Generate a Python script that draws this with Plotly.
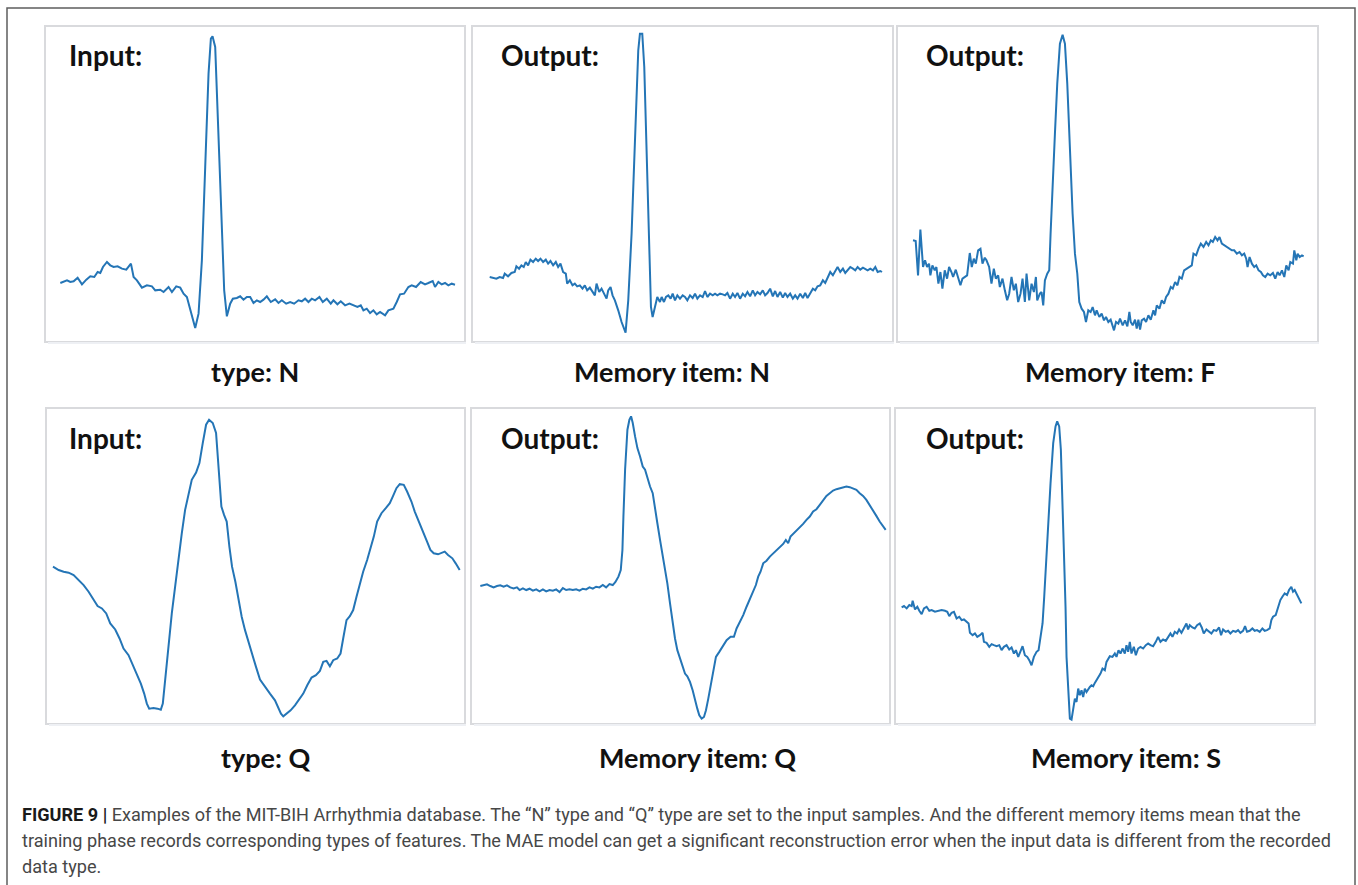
import plotly.graph_objects as go

# ---------------- data (sample index, amplitude in ADC-like units) ----------------
# Panel 1: Input, type N
t_in_n = [0, 1, 2, 3, 4, 5.2, 6.5, 7.8, 9, 10.2,
          11.2, 12, 12.8, 14, 15, 16, 17.2, 18.5, 19.8, 21.2,
          22, 23, 24.5, 26, 27.5, 28.5, 30, 31, 32.5, 33.5,
          34.8, 36, 37, 38, 39, 40.5, 41.5, 42.5, 43.5, 44.5,
          45.2, 45.7, 46.5, 47.5, 48.5, 49.2, 50, 51, 51.8, 53,
          54, 55, 56, 57, 58, 59, 60, 61, 62, 63.2,
          64.5, 65.5, 66.5, 67.8, 69, 70.2, 71.5, 72.5, 73.5, 74.5,
          75.5, 76.5, 77.8, 78.8, 80, 81.2, 82, 83.2, 84.2, 85.5,
          86.8, 88, 89.2, 90.2, 91, 92, 93, 94, 95, 96,
          97.5, 98.5, 100, 101, 102, 103.2, 104.5, 105.5, 106.8, 108.2,
          109.5, 110.5, 111.8, 112.5, 113.5, 114.5, 115.5, 116.5, 117.5, 118.5]
v_in_n = [135, 138, 143, 138, 140, 151, 131, 145, 155, 153,
          168, 165, 183, 198, 188, 183, 185, 178, 175, 193,
          153, 143, 121, 128, 125, 113, 115, 108, 123, 108,
          125, 121, 103, 93, 53, 0, 43, 203, 483, 763,
          868, 875, 843, 583, 283, 113, 35, 73, 88, 90,
          95, 85, 93, 93, 75, 83, 78, 85, 95, 78,
          86, 75, 83, 73, 78, 73, 83, 80, 88, 78,
          88, 83, 93, 78, 88, 73, 83, 71, 80, 68,
          73, 68, 63, 68, 53, 58, 45, 53, 41, 48,
          38, 53, 58, 78, 101, 103, 123, 128, 123, 138,
          131, 135, 141, 123, 138, 131, 135, 128, 133, 130]

# Panel 2: Output, memory item N
t_out_n = [0, 1, 2, 3, 4, 4.5, 5.5, 6.5, 7.5, 8,
           8.8, 9.5, 10.2, 10.8, 11.5, 12.2, 13, 13.8, 14.5, 15.2,
           16, 16.8, 17.5, 18.2, 19, 19.8, 20.5, 21.2, 22, 22.8,
           23.2, 24, 24.8, 25.5, 26.2, 27, 27.8, 28.5, 29.2, 30,
           30.8, 31.5, 32, 32.8, 33.5, 34.2, 35, 35.5, 36.2, 36.8,
           37.5, 38.5, 39.5, 40.7, 41.5, 42.5, 43.5, 44.5, 45, 45.7,
           46.3, 47, 47.7, 48.3, 48.8, 49.5, 50.2, 51, 51.5, 52.2,
           52.8, 53.5, 54.2, 54.8, 55.5, 56.2, 57, 57.8, 58.5, 59.2,
           60, 60.8, 61.5, 62.2, 63, 63.8, 64.5, 65.2, 66, 66.8,
           67.5, 68.2, 69, 69.8, 70.5, 71.2, 72, 72.8, 73.5, 74.2,
           75, 75.8, 76.5, 77.2, 78, 78.8, 79.5, 80.2, 81, 81.8,
           82.5, 83.2, 84, 84.8, 85.5, 86.2, 87, 87.8, 88.5, 89.2,
           90, 90.8, 91.5, 92.2, 93, 93.8, 94.5, 95.2, 96, 96.8,
           97.5, 98.2, 99, 99.8, 100.5, 101.2, 102, 102.8, 103.5, 104.2,
           105, 105.8, 106.5, 107.2, 108, 108.8, 109.5, 110.2, 111, 111.8,
           112.5, 113.2, 114, 114.8, 115.5, 116.2, 117, 117.5]
v_out_n = [167, 164, 162, 167, 164, 177, 169, 179, 182, 199,
           192, 202, 197, 212, 202, 219, 212, 222, 215, 222,
           212, 219, 207, 215, 202, 212, 197, 207, 182, 177,
           147, 157, 142, 147, 139, 142, 132, 142, 127, 135,
           122, 112, 147, 122, 132, 119, 102, 127, 137, 112,
           97, 67, 32, 0, 97, 297, 597, 847, 897, 897,
           797, 547, 247, 77, 47, 77, 107, 92, 107, 92,
           107, 112, 102, 117, 97, 112, 102, 112, 107, 97,
           112, 104, 117, 102, 112, 107, 125, 107, 117, 112,
           117, 112, 117, 115, 112, 119, 102, 117, 107, 119,
           102, 117, 109, 122, 109, 127, 112, 122, 115, 127,
           112, 119, 132, 109, 125, 107, 122, 105, 119, 107,
           117, 102, 112, 102, 117, 104, 119, 104, 117, 132,
           127, 139, 142, 157, 149, 167, 182, 172, 187, 197,
           182, 192, 179, 187, 197, 192, 187, 197, 189, 195,
           192, 187, 192, 187, 197, 182, 185, 182]

# Panel 3: Output, memory item F
t_out_f = [0, 0.8, 1.5, 2.2, 3, 3.6, 4.2, 4.8, 5.2, 5.8,
           6.5, 7, 7.6, 8.2, 8.8, 9.5, 10.2, 10.8, 11.5, 12,
           12.8, 13.5, 14.2, 14.8, 15.5, 16.2, 17, 17.6, 18.2, 18.8,
           19.5, 20.2, 20.8, 21.5, 22, 22.8, 23.5, 24.2, 24.8, 25.5,
           26, 26.8, 27.5, 28.2, 28.8, 29.5, 30.2, 30.8, 31.5, 32.2,
           32.8, 33.5, 34, 34.8, 35.5, 36.2, 36.8, 37.2, 38, 38.5,
           39, 39.5, 40.2, 40.8, 41.2, 41.8, 42.5, 43.2, 44, 44.8,
           45.5, 46.2, 47, 47.8, 48.5, 49.2, 49.8, 50.5, 51.2, 51.8,
           52.5, 53.2, 53.8, 54.5, 55, 55.8, 56.5, 57.2, 57.8, 58.5,
           59.2, 59.8, 60.2, 60.8, 61.5, 62, 62.8, 63.5, 64.2, 64.8,
           65.2, 65.8, 66.5, 67, 67.5, 68, 68.5, 69.2, 69.8, 70.5,
           71.2, 72, 72.5, 73, 73.8, 74.5, 75.2, 75.8, 76.5, 77.2,
           77.8, 78.5, 79.2, 79.8, 80.5, 81.2, 82, 82.8, 83.5, 84,
           84.8, 85.5, 86.2, 87, 87.8, 88.5, 89.2, 89.8, 90.5, 91.2,
           91.8, 92.5, 93.2, 94, 94.8, 95.5, 96.2, 97, 97.8, 98.5,
           99.2, 99.8, 100.2, 100.8, 101.5, 102.2, 102.8, 103.5, 104.2, 104.8,
           105.5, 106.2, 107, 107.8, 108.5, 109.2, 109.8, 110.5, 111.2, 111.8,
           112.5, 113, 113.8, 114.2, 114.8, 115.2, 115.8, 116.5, 117]
v_out_f = [270, 268, 165, 302, 190, 210, 190, 200, 165, 195,
           180, 190, 140, 175, 125, 180, 155, 190, 175, 160,
           182, 160, 135, 155, 160, 165, 232, 190, 215, 200,
           240, 245, 200, 218, 210, 190, 140, 185, 155, 165,
           130, 155, 120, 90, 110, 160, 120, 140, 85, 110,
           155, 85, 170, 90, 140, 115, 160, 90, 110, 115,
           75, 150, 170, 180, 290, 410, 590, 740, 860, 887,
           860, 740, 540, 350, 230, 170, 85, 65, 55, 25,
           60, 55, 70, 45, 60, 40, 50, 30, 40, 25,
           32, 10, 0, 25, 20, 35, 15, 30, 12, 55,
           25, 15, 32, 5, 32, 2, 30, 35, 25, 45,
           32, 60, 45, 75, 65, 90, 80, 100, 110, 130,
           125, 145, 135, 160, 155, 180, 185, 190, 195, 230,
           225, 245, 260, 250, 265, 255, 270, 265, 280, 270,
           280, 260, 255, 250, 245, 240, 240, 230, 235, 225,
           230, 215, 190, 220, 200, 190, 195, 180, 175, 165,
           160, 170, 165, 172, 155, 175, 165, 180, 160, 195,
           180, 205, 200, 240, 210, 230, 220, 225, 222]

# Panel 4: Input, type Q
t_in_q = [0, 1.7, 3.2, 4.7, 6.2, 7.7, 9.2, 10.7, 12.2, 13.4,
          14.7, 16, 17.2, 18.7, 20, 21.2, 22.7, 24, 25.2, 26.4,
          27.4, 28.2, 28.9, 30.2, 31.4, 32.4, 33, 33.7, 34.7, 35.7,
          36.7, 37.7, 38.7, 39.7, 40.7, 41.7, 43, 44, 45, 46,
          46.9, 48, 49, 49.8, 50.6, 51.4, 52.2, 53, 53.8, 54.8,
          55.7, 56.7, 57.7, 58.7, 59.7, 61, 62.2, 63.7, 65.2, 66.7,
          67.7, 68.5, 69.2, 70.2, 71.4, 72.7, 74, 75.2, 76.4, 77.7,
          79, 80.2, 81.2, 82.2, 83.2, 84.2, 85.4, 86.4, 87.2, 88.2,
          89.2, 90.2, 91.2, 92.2, 93.2, 94.4, 95.4, 96.4, 97.4, 98.7,
          100, 101.2, 102.2, 103.2, 104.2, 105.4, 106.4, 107.7, 108.7, 110,
          111.2, 112.4, 113.4, 114.4, 115.7, 116.7, 117.7, 118.7, 120, 121,
          122.2]
v_in_q = [448, 438, 433, 430, 423, 408, 393, 373, 348, 330,
          323, 308, 278, 260, 233, 203, 183, 153, 123, 98,
          68, 38, 23, 25, 23, 20, 38, 108, 218, 308,
          388, 478, 548, 618, 668, 708, 730, 758, 818, 873,
          888, 878, 848, 748, 628, 603, 583, 508, 448, 403,
          348, 298, 258, 223, 188, 148, 110, 88, 68, 48,
          28, 8, 0, 8, 18, 33, 53, 68, 93, 116,
          123, 136, 163, 166, 150, 168, 173, 188, 233, 288,
          300, 318, 358, 398, 433, 468, 503, 538, 583, 608,
          623, 638, 660, 683, 695, 693, 673, 643, 613, 583,
          553, 523, 498, 488, 485, 488, 493, 483, 473, 458,
          438]

# Panel 5: Output, memory item Q
t_out_q = [0, 1, 2, 3, 4, 5, 6, 7, 8, 9,
           10, 11, 11.8, 12.8, 13.8, 14.8, 15.8, 16.8, 17.8, 18.8,
           19.8, 20.8, 21.8, 22.8, 23.8, 24.8, 25.8, 26.8, 27.8, 28.8,
           29.8, 30.8, 31.8, 32.8, 33.8, 34.8, 35.8, 36.8, 37.8, 38.8,
           39.8, 40.6, 41.5, 42.2, 42.7, 43, 43.5, 44.2, 44.8, 45.3,
           45.8, 46.5, 47.2, 48, 48.8, 49.5, 50.2, 51, 51.8, 52.5,
           53.2, 54, 54.8, 55.5, 56.2, 57, 57.8, 58.5, 59.2, 60,
           60.8, 61.5, 62.2, 63, 63.8, 64.5, 65.2, 65.8, 66.5, 67.2,
           67.8, 68.5, 69.2, 70, 70.8, 71.8, 73, 74, 75.2, 76.2,
           77, 78, 79, 80, 81, 82, 82.8, 83.5, 84.2, 85,
           86, 87, 88, 89, 90, 91, 91.8, 92.5, 93.2, 94,
           95, 96, 97, 98, 99, 100, 101, 102, 103, 104,
           105, 106, 107, 108, 109, 110, 111, 112, 113, 114,
           115, 116, 117, 118, 119, 120, 121, 121.8]
v_out_q = [397, 400, 402, 397, 393, 397, 399, 395, 399, 393,
           390, 393, 385, 390, 385, 389, 383, 387, 381, 387,
           381, 385, 383, 387, 379, 391, 385, 387, 385, 387,
           383, 389, 387, 393, 389, 395, 393, 400, 393, 403,
           400, 409, 425, 445, 505, 605, 745, 865, 895, 905,
           885, 845, 810, 785, 755, 745, 720, 695, 675, 635,
           585, 535, 485, 455, 405, 345, 285, 240, 205, 180,
           160, 135, 127, 110, 85, 55, 30, 10, 0, 5,
           25, 60, 100, 145, 185, 200, 220, 235, 245, 245,
           270, 290, 310, 335, 357, 380, 400, 425, 440, 465,
           473, 485, 495, 505, 515, 523, 535, 525, 545, 553,
           560, 573, 583, 595, 605, 620, 627, 640, 655, 667,
           675, 683, 687, 690, 693, 695, 693, 690, 685, 675,
           667, 655, 640, 625, 607, 590, 575, 565]

# Panel 6: Output, memory item S
t_out_s = [0, 0.7, 1.5, 2.3, 3, 3.3, 4, 4.7, 5.3, 6,
           6.7, 7.5, 8.3, 9, 10, 11, 12, 13, 13.7, 14.3,
           15, 15.7, 16.5, 17.3, 18, 18.7, 19.5, 20.1, 20.5, 21.3,
           22, 22.7, 23.5, 24.3, 24.7, 25.5, 26.3, 27, 27.7, 28.5,
           29.3, 30, 30.7, 31.5, 32.3, 33, 33.7, 34.3, 35, 35.7,
           36.3, 37, 37.7, 38.3, 39, 39.7, 40.5, 41.1, 41.7, 42.3,
           42.8, 43.3, 44, 44.7, 45.5, 46.2, 46.7, 47.3, 47.8, 48.3,
           48.7, 49.2, 49.5, 50, 50.5, 51, 51.5, 52, 52.5, 53,
           53.5, 54, 54.5, 55, 55.5, 56, 56.5, 57, 57.5, 58,
           58.5, 59, 59.7, 60.3, 61, 61.5, 62, 62.5, 63.3, 64,
           64.5, 65.1, 65.7, 66.3, 67, 67.5, 68, 68.5, 69, 69.7,
           70.3, 71, 71.7, 72.5, 73.3, 74, 74.7, 75.5, 76.3, 77,
           77.7, 78.5, 79.3, 80, 80.7, 81.3, 82, 82.7, 83.3, 84,
           84.7, 85.5, 86, 86.5, 87.3, 88, 88.7, 89.5, 90.1, 90.7,
           91.5, 92.3, 93, 93.7, 94.5, 95.3, 95.9, 96.5, 97.3, 98,
           98.7, 99.5, 100.3, 101, 101.7, 102.5, 103.1, 103.7, 104.5, 105.3,
           106, 106.7, 107.5, 108.3, 109, 109.7, 110.5, 111, 111.5, 112.3,
           113, 113.7, 114.3, 115, 115.7, 116.3, 117, 117.5, 118, 118.7,
           119.3, 120]
v_out_s = [336, 340, 333, 343, 340, 356, 330, 338, 326, 316,
           333, 338, 326, 328, 323, 326, 328, 326, 323, 310,
           320, 323, 303, 308, 298, 300, 293, 288, 260, 253,
           258, 248, 253, 260, 233, 230, 218, 226, 223, 220,
           223, 208, 218, 223, 210, 216, 198, 208, 188, 208,
           220, 193, 188, 178, 163, 188, 203, 208, 248, 288,
           368, 468, 588, 708, 828, 878, 893, 878, 808, 658,
           508, 338, 188, 108, 3, 0, 33, 63, 53, 93,
           73, 88, 68, 93, 83, 93, 98, 103, 100, 110,
           118, 128, 138, 153, 148, 173, 183, 190, 188, 198,
           188, 208, 198, 213, 198, 223, 203, 233, 198, 218,
           193, 213, 218, 213, 223, 228, 223, 220, 233, 248,
           233, 240, 236, 248, 258, 248, 263, 258, 270, 260,
           273, 288, 270, 283, 276, 273, 283, 288, 276, 258,
           270, 263, 258, 268, 266, 276, 253, 270, 263, 266,
           258, 266, 263, 268, 260, 266, 280, 263, 266, 273,
           266, 268, 263, 273, 266, 268, 273, 298, 308, 313,
           338, 358, 368, 378, 373, 388, 398, 383, 388, 373,
           363, 348]

corner_labels = ["Input:", "Output:", "Output:", "Input:", "Output:", "Output:"]
bottom_labels = ["type: N", "Memory item: N", "Memory item: F",
                 "type: Q", "Memory item: Q", "Memory item: S"]
caption_lines = [
    "<span style='color:#1a1a1a'><b>FIGURE 9 |</b></span> Examples of the MIT-BIH Arrhythmia database. The \u201cN\u201d type and \u201cQ\u201d type are set to the input samples. And the different memory items mean that the",
    "training phase records corresponding types of features. The MAE model can get a significant reconstruction error when the input data is different from the recorded",
    "data type.",
]

series = [(t_in_n, v_in_n), (t_out_n, v_out_n), (t_out_f, v_out_f),
          (t_in_q, v_in_q), (t_out_q, v_out_q), (t_out_s, v_out_s)]

# ---------------- layout geometry (pixels) ----------------
W, H = 1358, 885
# panel boxes: left, right, top, bottom (px)
boxes = [(46, 464, 27, 341), (473, 892, 27, 341), (898, 1317, 27, 341),
         (47, 464, 409, 723), (472, 889, 409, 723), (896, 1314, 409, 723)]
# axis ranges per panel
xranges = [(-4.3, 121.2), (-5.0, 120.5), (-4.5, 121.0),
           (-1.8, 123.5), (-2.5, 122.8), (-1.7, 123.8)]
yranges = [(-39, 903), (-25, 917), (-32, 910),
           (-20, 920), (-13, 927), (-10, 930)]
corner_pos = [(67, 55), (499, 55), (924, 55), (67, 438), (499, 438), (924, 438)]
label_pos = [(255, 371), (672, 371), (1120, 371), (266, 757), (698, 757), (1126, 757)]

LINE = "#2475b6"
fig = go.Figure()
layout = dict(
    width=W, height=H, margin=dict(l=0, r=0, t=0, b=0),
    paper_bgcolor="white", plot_bgcolor="white", showlegend=False,
)
annotations = []
shapes = []
for i, ((t, v), (l, r, tp, bt)) in enumerate(zip(series, boxes)):
    n = i + 1
    xa = "x" if n == 1 else f"x{n}"
    ya = "y" if n == 1 else f"y{n}"
    fig.add_trace(go.Scatter(x=t, y=v, mode="lines", xaxis=xa, yaxis=ya,
                             line=dict(color=LINE, width=2.0), hoverinfo="skip"))
    axprops = dict(showgrid=False, zeroline=False, showticklabels=False, ticks="",
                   showline=True, mirror=True, linecolor="#d9dadd", linewidth=1.6)
    layout["xaxis" if n == 1 else f"xaxis{n}"] = dict(
        domain=[l / W, r / W], range=list(xranges[i]), anchor=ya, **axprops)
    layout["yaxis" if n == 1 else f"yaxis{n}"] = dict(
        domain=[1 - bt / H, 1 - tp / H], range=list(yranges[i]), anchor=xa, **axprops)
    # faint shadow under the box
    shapes.append(dict(type="line", xref="paper", yref="paper",
                       x0=(l + 2) / W, x1=(r + 2) / W, y0=1 - (bt + 2) / H, y1=1 - (bt + 2) / H,
                       line=dict(color="#eef0f4", width=2)))
    cx, cy = corner_pos[i]
    annotations.append(dict(text=f"<b>{corner_labels[i]}</b>", xref="paper", yref="paper",
                            x=cx / W, y=1 - cy / H, xanchor="left", yanchor="middle",
                            showarrow=False, font=dict(family="Lato", size=28, color="#111")))
    lx, ly = label_pos[i]
    annotations.append(dict(text=f"<b>{bottom_labels[i]}</b>", xref="paper", yref="paper",
                            x=lx / W, y=1 - ly / H, xanchor="center", yanchor="middle",
                            showarrow=False, font=dict(family="Lato", size=27, color="#111")))

caption_y = [814, 840, 866]
for line, cyp in zip(caption_lines, caption_y):
    annotations.append(dict(text=line, xref="paper", yref="paper", x=20 / W, y=1 - cyp / H,
                            xanchor="left", yanchor="middle", showarrow=False, align="left",
                            font=dict(family="Roboto, Arial", size=18.1,
                                      color="#474747")))

# outer figure frame (open at the bottom)
shapes.append(dict(type="path", xref="paper", yref="paper",
                   path=f"M {7/W},-0.02 L {7/W},{1-8/H} L {1355/W},{1-8/H} L {1355/W},-0.02",
                   line=dict(color="#5e5e5e", width=1.5)))

layout["annotations"] = annotations
layout["shapes"] = shapes
fig.update_layout(**layout)
fig.write_html("out.html")
